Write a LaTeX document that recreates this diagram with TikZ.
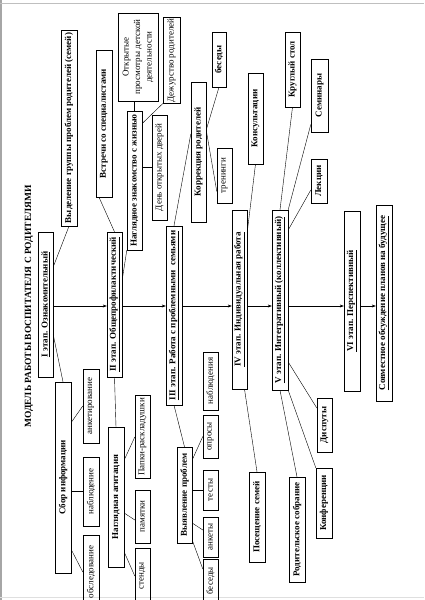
\documentclass[tikz,border=0pt]{standalone}
\usepackage{fontspec}
\setmainfont{Liberation Serif}
\usetikzlibrary{arrows.meta,calc}

\begin{document}
\begin{tikzpicture}[x=1pt, y=1pt,
  box/.style={draw, thin, inner sep=1pt, align=center, font=\fontsize{9}{10.5}\selectfont\bfseries},
  item/.style={box, font=\fontsize{9}{10.5}\selectfont},
  stage/.style={box, minimum height=16pt},
  arr/.style={-{Stealth[length=4pt,width=3pt]}, thin}]
\begin{scope}[rotate=90, transform shape]
  \clip (0,0) rectangle (600,424);
  % scan edges
  \draw[gray!70, line width=1.2pt] (0,423) -- (600,423);
  \draw[gray!50] (597,0) -- (597,424);
  \draw[gray!25] (3,0) -- (3,424);
  % title
  \node[font=\fontsize{9.5}{11}\selectfont\bfseries] (title) at (293.5,395) {МОДЕЛЬ РАБОТЫ ВОСПИТАТЕЛЯ С РОДИТЕЛЯМИ};
  % stages
  \node[stage, minimum width=145pt, minimum height=15pt] (st1) at (295.5,378.5) {\underline{I этап. Ознакомительный}};
  \node[stage, minimum width=145pt, minimum height=15pt] (st2) at (295.5,309.5) {\underline{II этап. Общепрофилактический}};
  \node[stage, minimum width=179pt] (st3) at (284.5,250) {\underline{III этап. Работа с проблемными\ \ семьями}};
  \node[stage, minimum width=179pt, minimum height=15pt] (st4) at (300.5,184.5) {\underline{IV этап. Индивидуальная работа}};
  \node[stage, minimum width=180pt] (st5) at (300,144) {\underline{V этап. Интегративный (коллективный)}};
  \node[stage, minimum width=180pt] (st6) at (299,72) {\underline{VI этап. Перспективный}};
  \node[stage, minimum width=196pt] (st7) at (297,40) {\underline{Совместное обсуждение планов на будущее}};
  \coordinate (axis) at (294,0);
  \foreach \a/\b in {st1/st2,st2/st3,st3/st4,st4/st5,st5/st6,st6/st7}
    \draw[arr] (\a.south -| axis) -- (\b.north -| axis);
  % stage I
  \node[box, minimum width=196pt, minimum height=16pt] (vydel) at (472,355) {Выделение группы проблем родителей (семей)};
  \node[box, minimum width=191pt, minimum height=16pt] (sbor) at (122.5,361) {Сбор информации};
  \node[item, minimum width=74pt, minimum height=16pt] (anket) at (194,333) {анкетирование};
  \node[item, minimum width=69pt, minimum height=16pt] (nabl) at (108.5,333) {наблюдение};
  \node[item, minimum width=73pt, minimum height=16pt] (obsl) at (28,333) {обследование};
  \draw ($(st1.south)+(37.5,0)$) -- (vydel.west);
  \draw ($(st1.south)+(-30,0)$) -- (sbor.east);
  \draw ($(sbor.south)+(55,0)$) -- (anket.north);
  \draw (nabl.north |- sbor.south) -- (nabl.north);
  \draw ($(sbor.south)+(-72,0)$) -- (obsl.north);
  % stage II
  \node[box, minimum width=147pt, minimum height=16pt] (vstr) at (476.5,320) {Встречи со специалистами};
  \node[box, minimum width=139pt, minimum height=15pt] (nagl) at (419.5,289.5) {Наглядное знакомство с жизнью};
  \node[item, minimum width=88pt, minimum height=40pt, font=\fontsize{9}{11.5}\selectfont] (otkr) at (543,286) {Открытые\\просмотры детской\\деятельности};
  \node[item, minimum width=85pt, minimum height=17pt] (dezh) at (539.5,252.5) {Дежурство родителей};
  \node[item, minimum width=105pt, minimum height=15pt] (den) at (432.5,264.5) {День открытых дверей};
  \node[box, minimum width=140pt, minimum height=16pt] (nagla) at (103,308) {Наглядная агитация};
  \node[item, minimum width=83pt, minimum height=15pt] (papki) at (163,281.5) {Папки-раскладушки};
  \node[item, minimum width=53pt, minimum height=15pt] (pamyat) at (83.5,281.5) {памятки};
  \node[item, minimum width=55pt, minimum height=15pt] (stend) at (24,281.5) {стенды};
  \draw (st2.east) -- ($(vstr.west)+(0,5)$);
  \draw ($(st2.south)+(24.5,0)$) -- (nagl.north west);
  \draw (nagl.east) -- (otkr.west |- nagl.east);
  \draw ($(nagl.south)+(57,0)$) -- (dezh.north west);
  \draw (den.north |- nagl.south) -- (den.north);
  \draw (st2.west) -- (nagla.east);
  \draw ($(nagla.south)+(37,0)$) -- (papki.north);
  \draw ($(nagla.south)+(-16,0)$) -- ($(pamyat.north)+(-3.5,0)$);
  \draw ($(nagla.south)+(-55,0)$) -- (stend.north);
  % stage III
  \node[box, minimum width=140pt, minimum height=15pt] (korr) at (448,225.5) {Коррекция родителей};
  \node[box, minimum width=55pt, minimum height=14pt] (besed1) at (540.5,205) {беседы};
  \node[item, minimum width=55pt, minimum height=15pt] (tren) at (424.5,199.5) {тренинги};
  \node[box, minimum width=96pt, minimum height=15pt] (vyyav) at (105,239.5) {Выявление проблем};
  \node[item, minimum width=58pt, minimum height=15pt] (nabl2) at (219,213.5) {наблюдения};
  \node[item, minimum width=43pt, minimum height=15pt] (opros) at (163.5,213.5) {опросы};
  \node[item, minimum width=40pt, minimum height=15pt] (testy) at (110,213.5) {тесты};
  \node[item, minimum width=40pt, minimum height=15pt] (ankety) at (63,213.5) {анкеты};
  \node[item, minimum width=44pt, minimum height=15pt] (besed2) at (19,213.5) {беседы};
  \draw (st3.east) -- ($(korr.north)+(18,0)$);
  \draw ($(korr.south)+(22,0)$) -- (besed1.west);
  \draw ($(korr.south)+(22,0)$) -- ($(tren.north)+(-16,0)$);
  \draw (st3.west) -- (vyyav.east);
  \draw ($(vyyav.south)+(35,0)$) -- (opros.north);
  \draw (testy.north |- vyyav.south) -- (testy.north);
  \draw ($(vyyav.south)+(-28,0)$) -- ($(ankety.north)+(7,0)$);
  \draw ($(vyyav.south)+(-45,0)$) -- ($(besed2.north)+(12,0)$);
  % stage IV
  \node[box, minimum width=91pt, minimum height=15pt] (konsul) at (481.5,168.5) {Консультации};
  \node[box, minimum width=90pt, minimum height=16pt] (posesh) at (83,167) {Посещение семей};
  \draw ($(st4.south)+(67,0)$) -- (konsul.west);
  \draw ($(st4.west)+(0,-5)$) -- (posesh.east);
  % stage V
  \node[box, minimum width=75pt, minimum height=15pt] (krug) at (530.5,131.5) {Круглый стол};
  \node[box, minimum width=73pt, minimum height=17pt] (semin) at (504.5,104.5) {Семинары};
  \node[box, minimum width=44pt, minimum height=16pt] (lekc) at (419,105) {Лекции};
  \node[box, minimum width=54pt, minimum height=15pt] (disp) at (175,99.5) {Диспуты};
  \node[box, minimum width=70pt, minimum height=16pt] (konf) at (97,100) {Конференции};
  \node[box, minimum width=105pt, minimum height=16pt] (rodit) at (70.5,127) {Родительское собрание};
  \draw (st5.east) -- (krug.west);
  \draw (st5.south east) -- ($(semin.north)+(-29,0)$);
  \draw ($(st5.south)+(70,0)$) -- ($(lekc.north)+(-9,0)$);
  \draw ($(st5.south)+(-62,0)$) -- ($(disp.north)+(17,0)$);
  \draw (st5.south west) -- (konf.north east);
  \draw (st5.west) -- (rodit.east);
\end{scope}
\end{tikzpicture}
\end{document}
